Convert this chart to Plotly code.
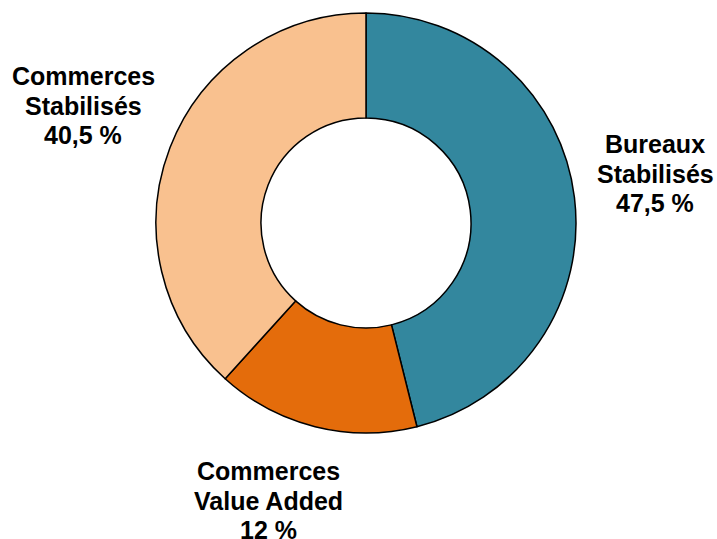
import plotly.graph_objects as go

# Data (slice sizes; label texts as printed)
categories = ["Bureaux Stabilisés", "Commerces Value Added", "Commerces Stabilisés"]
values = [46.1, 15.6, 38.3]
label_lines = [
    ["Bureaux", "Stabilisés", "47,5 %"],
    ["Commerces", "Value Added", "12 %"],
    ["Commerces", "Stabilisés", "40,5 %"],
]
colors = ["#33879E", "#E46C0B", "#F9C18F"]

W, H = 717, 539
cx, cy, r = 366, 223, 210

fig = go.Figure(go.Pie(
    labels=categories,
    values=values,
    hole=0.5,
    sort=False,
    direction="clockwise",
    rotation=0,
    marker=dict(colors=colors, line=dict(color="black", width=1.5)),
    textinfo="none",
    hoverinfo="label+percent",
    showlegend=False,
    domain=dict(x=[(cx - r) / W, (cx + r) / W],
                y=[(H - cy - r) / H, (H - cy + r) / H]),
))

# label placement: (center x px, first line center y px, line spacing px)
label_pos = [(655, 144, 29.7), (268, 471, 29.7), (83, 76, 29.7)]
annotations = []
for lines, (lx, ly, sp) in zip(label_lines, label_pos):
    for i, t in enumerate(lines):
        yc = ly + i * sp
        annotations.append(dict(
            text="<b>" + t + "</b>", x=lx / W, y=(H - yc) / H,
            xref="paper", yref="paper",
            xanchor="center", yanchor="middle", showarrow=False,
            font=dict(family="Liberation Sans, Arial", size=25, color="black"),
        ))

fig.update_layout(
    width=W, height=H,
    margin=dict(l=0, r=0, t=0, b=0),
    paper_bgcolor="white", plot_bgcolor="white",
    annotations=annotations,
)

fig.write_html("out.html")
